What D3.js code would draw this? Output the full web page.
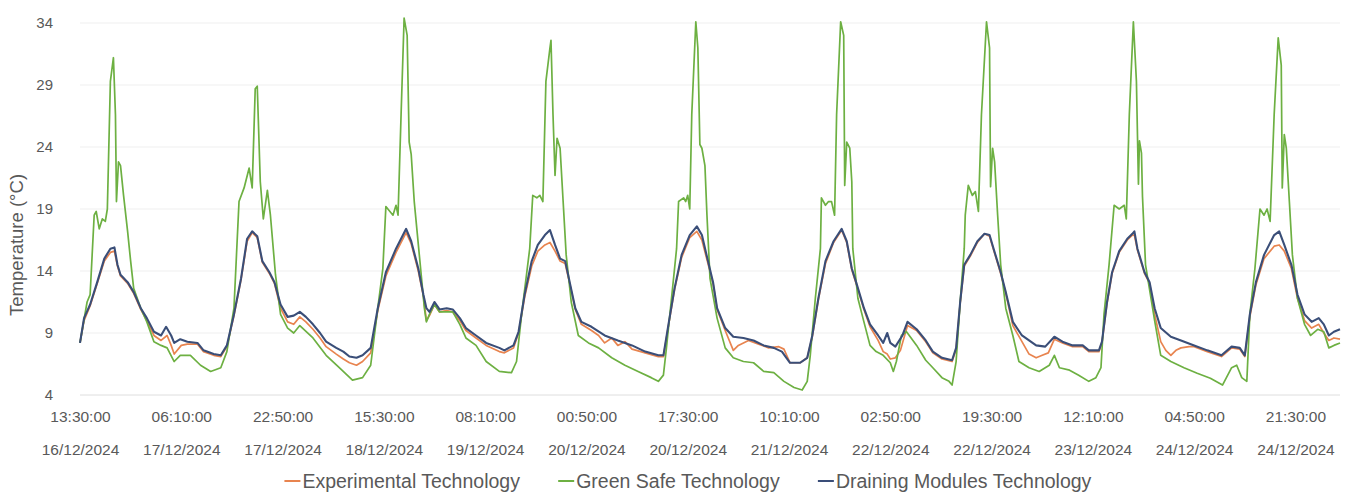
<!DOCTYPE html>
<html>
<head>
<meta charset="utf-8">
<script src="https://cdn.jsdelivr.net/npm/d3@7"></script>
<style>
  body { margin: 0; background: #ffffff; }
  svg text { font-family: "Liberation Sans", Arial, sans-serif; fill: #595959; }
</style>
</head>
<body>
<svg id="chart" width="1354" height="494"></svg>
<script>
// Readings every 10 minutes from 16/12/2024 13:30; "step" = index of the 10-minute reading.
const timeLabels = ["13:30:00","06:10:00","22:50:00","15:30:00","08:10:00","00:50:00","17:30:00",
                    "10:10:00","02:50:00","19:30:00","12:10:00","04:50:00","21:30:00"];
const dateLabels = ["16/12/2024","17/12/2024","17/12/2024","18/12/2024","19/12/2024","20/12/2024","20/12/2024",
                    "21/12/2024","22/12/2024","22/12/2024","23/12/2024","24/12/2024","24/12/2024"];
const tickSteps = [0,100,200,300,400,500,600,700,800,900,1000,1100,1200];
const lastStep = 1244;
const yTicks = [4,9,14,19,24,29,34];
const seriesNames = ["Experimental Technology","Green Safe Technology","Draining Modules Technology"];
const seriesColors = ["#E8844F","#6DB042","#3A4E78"];

// [step, temperature °C]
const experimental = [[0,8.2],[4,10.0],[10,11.2],[17,13.0],[24,14.8],[30,15.5],[34,15.6],[37,14.4],[40,13.6],[47,13.0],[53,12.2],[60,10.9],[66,10.0],[73,8.8],[80,8.4],[86,8.8],[90,8.0],[93,7.3],[100,8.0],[106,8.1],[116,8.1],[122,7.5],[132,7.2],[139,7.1],[145,7.9],[152,10.4],[159,13.3],[165,16.4],[170,17.1],[175,16.7],[180,14.7],[187,13.8],[192,13.0],[198,11.0],[205,9.9],[211,9.7],[217,10.3],[223,9.9],[230,9.3],[237,8.6],[243,7.9],[253,7.3],[260,6.9],[266,6.6],[273,6.4],[279,6.7],[287,7.4],[294,10.8],[302,13.6],[312,15.5],[322,17.1],[327,16.2],[334,14.0],[339,12.0],[342,10.0],[345,10.4],[350,11.3],[355,10.7],[362,10.8],[368,10.7],[375,10.0],[381,9.2],[391,8.6],[401,8.0],[414,7.5],[419,7.4],[428,7.8],[433,9.0],[439,11.9],[446,14.4],[452,15.6],[459,16.1],[464,16.3],[469,15.6],[474,14.8],[479,14.6],[484,12.8],[489,10.9],[495,9.7],[505,9.2],[512,8.8],[518,8.2],[525,8.6],[531,8.0],[538,8.3],[545,7.7],[558,7.4],[571,7.1],[576,7.1],[581,9.6],[587,12.5],[594,15.1],[602,16.7],[609,17.2],[614,16.5],[620,14.6],[625,13.0],[629,10.9],[637,9.2],[645,7.6],[650,8.0],[660,8.4],[670,8.1],[680,7.8],[690,7.9],[695,7.7],[701,6.6],[711,6.6],[718,7.0],[723,8.7],[729,11.7],[736,14.6],[744,16.3],[752,17.3],[757,16.3],[762,14.1],[767,12.8],[774,10.9],[780,9.5],[788,8.4],[793,7.5],[797,7.3],[800,6.9],[805,7.0],[810,7.6],[817,9.6],[826,9.2],[835,8.3],[842,7.4],[851,6.9],[861,6.7],[865,7.7],[869,11.4],[873,14.4],[879,15.2],[886,16.3],[893,17.0],[898,16.8],[902,15.7],[909,13.8],[914,12.2],[921,9.6],[930,8.3],[937,7.3],[944,7.0],[950,7.2],[956,7.4],[962,8.5],[970,8.2],[980,7.9],[990,7.9],[996,7.5],[1006,7.5],[1009,8.2],[1014,11.4],[1019,13.8],[1026,15.5],[1034,16.5],[1039,16.9],[1041,16.9],[1044,15.7],[1051,13.8],[1056,13.0],[1061,10.5],[1067,8.3],[1072,7.6],[1077,7.2],[1082,7.6],[1087,7.8],[1095,7.9],[1100,7.9],[1113,7.5],[1127,7.1],[1137,7.8],[1145,7.7],[1150,7.1],[1155,10.3],[1161,12.9],[1169,15.0],[1179,16.0],[1184,16.1],[1189,15.6],[1196,14.2],[1202,11.8],[1209,10.0],[1216,9.4],[1223,9.7],[1228,9.0],[1233,8.4],[1238,8.6],[1244,8.5]];

const greenSafe = [[0,8.2],[7,11.5],[10,12.1],[14,18.5],[16,18.8],[19,17.4],[22,18.2],[25,18.0],[27,19.0],[30,29.3],[33,31.2],[35,26.6],[36,19.6],[38,22.8],[40,22.5],[43,20.1],[47,17.2],[50,14.8],[53,12.6],[60,11.0],[66,9.9],[73,8.3],[80,8.0],[86,7.8],[93,6.7],[99,7.2],[109,7.2],[119,6.4],[129,5.9],[139,6.2],[145,7.5],[152,11.0],[157,19.6],[162,20.7],[167,22.3],[170,20.7],[173,28.7],[175,28.9],[178,21.2],[181,18.2],[185,20.5],[188,18.5],[193,13.7],[198,10.5],[205,9.4],[211,9.0],[217,9.6],[230,8.6],[243,7.2],[256,6.2],[269,5.2],[279,5.4],[287,6.4],[294,11.0],[299,14.2],[302,19.2],[306,18.8],[309,18.5],[312,19.3],[314,18.5],[317,26.6],[320,34.4],[323,33.0],[325,24.4],[327,23.4],[330,19.6],[335,15.3],[340,11.0],[342,9.9],[345,10.5],[350,11.3],[355,10.7],[368,10.7],[375,9.7],[381,8.6],[391,8.0],[401,6.7],[414,5.9],[426,5.8],[431,6.7],[436,10.5],[444,15.8],[447,20.1],[451,19.9],[454,20.1],[457,19.6],[460,29.3],[464,32.0],[465,32.6],[467,26.6],[469,21.7],[471,24.7],[474,23.9],[477,19.6],[480,15.3],[485,11.5],[492,8.8],[502,8.2],[512,7.8],[525,7.0],[538,6.4],[551,5.9],[564,5.4],[571,5.1],[576,5.6],[579,7.8],[584,11.8],[589,15.8],[591,19.6],[596,19.9],[598,19.6],[600,20.1],[602,19.0],[604,26.6],[608,34.1],[610,32.0],[612,24.2],[614,23.9],[617,22.5],[619,18.5],[622,13.4],[629,10.2],[637,7.8],[645,7.0],[655,6.7],[665,6.6],[675,5.9],[685,5.8],[695,5.1],[705,4.6],[713,4.4],[718,5.1],[721,7.2],[726,11.8],[731,15.8],[732,19.9],[736,19.3],[739,19.6],[742,19.6],[745,18.5],[747,26.6],[751,34.1],[754,33.0],[755,20.9],[757,24.4],[760,23.9],[762,21.2],[763,15.8],[768,11.8],[773,10.2],[780,8.0],[786,7.5],[793,7.2],[800,6.6],[803,5.9],[806,6.7],[811,8.8],[816,9.1],[826,8.0],[835,6.8],[842,6.2],[851,5.4],[858,5.1],[861,4.8],[865,6.7],[869,11.5],[873,15.8],[874,18.5],[877,20.9],[881,20.1],[884,20.4],[887,18.8],[890,26.6],[895,34.1],[898,32.0],[899,20.8],[901,23.9],[903,22.8],[906,18.5],[909,14.5],[914,11.0],[921,8.8],[927,6.7],[937,6.2],[947,5.9],[957,6.4],[962,7.2],[967,6.2],[977,6.0],[986,5.6],[996,5.1],[1003,5.4],[1008,6.2],[1011,10.5],[1016,14.5],[1021,19.3],[1026,19.0],[1031,19.3],[1033,18.2],[1036,26.6],[1040,34.1],[1043,29.3],[1045,21.0],[1046,24.5],[1048,23.5],[1049,20.0],[1052,14.5],[1061,10.0],[1067,7.2],[1077,6.7],[1090,6.2],[1103,5.75],[1116,5.35],[1128,4.8],[1137,6.2],[1142,6.4],[1147,5.4],[1152,5.1],[1155,10.5],[1160,14.2],[1165,19.0],[1169,18.5],[1172,19.0],[1175,18.0],[1179,26.6],[1183,32.8],[1186,30.6],[1187,20.7],[1189,25.0],[1191,23.9],[1194,19.6],[1197,15.3],[1202,11.8],[1209,9.7],[1215,8.8],[1222,9.3],[1228,9.1],[1233,7.8],[1238,8.0],[1244,8.2]];

const draining = [[0,8.2],[4,10.2],[10,11.3],[17,13.1],[24,15.0],[30,15.8],[34,15.9],[37,14.5],[40,13.7],[47,13.1],[53,12.3],[60,11.0],[66,10.2],[73,9.1],[80,8.8],[85,9.5],[90,8.8],[93,8.2],[99,8.5],[106,8.3],[116,8.2],[122,7.6],[132,7.3],[139,7.2],[145,8.0],[152,10.5],[159,13.4],[165,16.6],[170,17.2],[175,16.8],[180,14.8],[187,13.9],[192,13.1],[198,11.3],[205,10.3],[211,10.4],[217,10.7],[223,10.3],[230,9.7],[237,9.0],[243,8.3],[253,7.8],[260,7.5],[266,7.1],[273,7.0],[279,7.2],[287,7.8],[294,11.0],[302,13.9],[312,15.8],[322,17.4],[327,16.4],[334,14.2],[339,12.1],[342,11.0],[345,10.7],[350,11.5],[355,10.9],[362,11.0],[368,10.9],[375,10.2],[381,9.4],[391,8.8],[401,8.2],[414,7.8],[419,7.6],[428,8.0],[433,9.1],[439,12.1],[446,14.8],[452,16.1],[459,16.9],[464,17.3],[469,16.1],[474,15.0],[479,14.8],[484,12.9],[489,11.0],[495,9.9],[505,9.5],[518,8.8],[531,8.4],[545,8.0],[558,7.5],[571,7.2],[576,7.2],[581,9.7],[587,12.6],[594,15.3],[602,16.9],[609,17.6],[614,16.9],[620,14.8],[625,13.1],[629,11.0],[637,9.4],[645,8.7],[655,8.6],[665,8.4],[675,8.0],[685,7.8],[693,7.5],[701,6.6],[711,6.6],[718,7.0],[723,8.8],[729,11.8],[736,14.8],[744,16.4],[752,17.4],[757,16.4],[762,14.2],[767,12.9],[774,11.0],[780,9.7],[788,8.8],[793,8.2],[797,9.0],[800,8.2],[805,7.9],[812,8.8],[817,9.9],[826,9.3],[835,8.4],[842,7.5],[851,7.0],[861,6.8],[865,7.8],[869,11.5],[873,14.5],[879,15.3],[886,16.4],[893,17.0],[898,16.9],[902,15.8],[909,13.9],[914,12.3],[921,9.9],[930,8.8],[944,8.0],[953,7.9],[962,8.7],[970,8.3],[980,8.0],[990,8.0],[996,7.6],[1006,7.6],[1009,8.3],[1014,11.5],[1019,13.9],[1026,15.6],[1034,16.6],[1039,17.0],[1041,17.2],[1044,15.8],[1051,13.9],[1056,13.1],[1061,11.0],[1067,9.4],[1077,8.7],[1087,8.4],[1100,8.0],[1113,7.6],[1127,7.2],[1137,7.9],[1145,7.8],[1150,7.2],[1155,10.5],[1161,13.1],[1169,15.3],[1179,16.9],[1184,17.2],[1189,16.1],[1196,14.5],[1202,12.1],[1209,10.5],[1216,9.9],[1223,10.2],[1228,9.7],[1233,8.8],[1238,9.1],[1244,9.3]];

const svg = d3.select("#chart");
const plot = { left: 80, right: 1340, top: 23, bottom: 395 };

const x = d3.scaleLinear().domain([0, lastStep]).range([plot.left, plot.right]);
const y = d3.scaleLinear().domain([4, 34]).range([plot.bottom, plot.top]);

// horizontal gridlines
svg.append("g")
  .selectAll("line")
  .data(yTicks.filter(t => t !== 4))
  .join("line")
  .attr("x1", plot.left).attr("x2", plot.right)
  .attr("y1", d => y(d)).attr("y2", d => y(d))
  .attr("stroke", "#efefef").attr("stroke-width", 1);

// category axis baseline
svg.append("line")
  .attr("x1", plot.left).attr("x2", plot.right)
  .attr("y1", y(4)).attr("y2", y(4))
  .attr("stroke", "#dedede").attr("stroke-width", 1);

// y axis
const yAxis = svg.append("g")
  .attr("transform", `translate(${plot.left - 27},0)`)
  .call(d3.axisLeft(y).tickValues(yTicks).tickSize(0).tickPadding(0).tickFormat(d3.format("d")));
yAxis.select(".domain").remove();
yAxis.selectAll("text").style("font-size", "15px").attr("fill", "#595959");

// x axis: time on the first line, date on the second
const xAxis = svg.append("g")
  .attr("transform", `translate(0,${plot.bottom})`)
  .call(d3.axisBottom(x).tickValues(tickSteps).tickSize(0).tickPadding(0).tickFormat(""));
xAxis.select(".domain").remove();
xAxis.selectAll(".tick").each(function(d, i) {
  const t = d3.select(this);
  t.select("text").remove();
  t.append("text").attr("y", 27).attr("text-anchor", "middle")
    .style("font-size", "15.5px").attr("fill", "#595959").text(timeLabels[i]);
  t.append("text").attr("y", 60).attr("text-anchor", "middle")
    .style("font-size", "15.5px").attr("fill", "#595959").text(dateLabels[i]);
});

// y axis title
svg.append("text")
  .attr("transform", "translate(23,245) rotate(-90)")
  .attr("text-anchor", "middle")
  .style("font-size", "18.5px")
  .text("Temperature (°C)");

// series lines
const line = d3.line().x(d => x(d[0])).y(d => y(d[1])).curve(d3.curveLinear);
const seriesData = [experimental, greenSafe, draining];
const widths = [1.7, 1.7, 2.1];
svg.append("g").selectAll("path")
  .data(seriesData)
  .join("path")
  .attr("d", line)
  .attr("fill", "none")
  .attr("stroke", (d, i) => seriesColors[i])
  .attr("stroke-width", (d, i) => widths[i])
  .attr("stroke-linejoin", "round");

// legend, centred under the chart
const legend = svg.append("g").attr("transform", "translate(0,481)");
const items = legend.selectAll("g").data(seriesNames).join("g");
items.append("line")
  .attr("x1", 0).attr("x2", 16).attr("y1", 0).attr("y2", 0)
  .attr("stroke", (d, i) => seriesColors[i]).attr("stroke-width", 2);
items.append("text")
  .attr("x", 18).attr("dy", "0.35em")
  .style("font-size", "19.5px")
  .text(d => d);
let cursor = 0;
const offsets = [];
items.each(function() {
  offsets.push(cursor);
  cursor += this.getBBox().width + 38;
});
const totalWidth = cursor - 38;
const start = 688 - totalWidth / 2;
items.attr("transform", (d, i) => `translate(${start + offsets[i]},0)`);
</script>
</body>
</html>
